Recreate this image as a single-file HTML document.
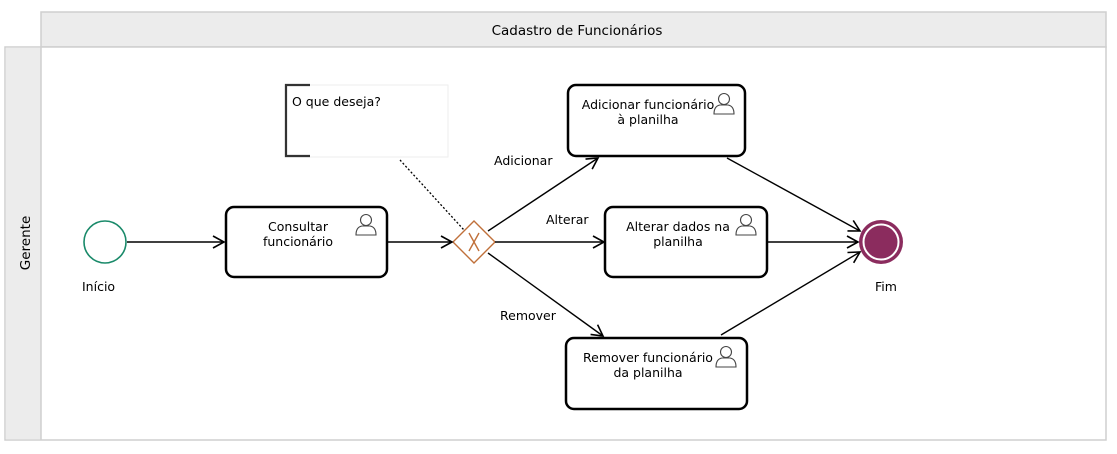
<!DOCTYPE html>
<html><head><meta charset="utf-8"><style>
html,body{margin:0;padding:0;background:#fff;}
svg{display:block;font-family:"DejaVu Sans","Liberation Sans",sans-serif;}
text{fill:#000;}
</style></head><body>
<svg width="1117" height="454" viewBox="0 0 1117 454" xmlns="http://www.w3.org/2000/svg">
<defs>
<marker id="a" markerWidth="14" markerHeight="14" refX="12" refY="7" orient="auto" markerUnits="userSpaceOnUse">
<path d="M1,1 L12,7 L1,13" fill="none" stroke="#000" stroke-width="1.6"/>
</marker>
<g id="u" fill="none" stroke="#444" stroke-width="1.1">
<circle cx="11" cy="7" r="5.5"/>
<path d="M1,22 Q1,14 7,13 L15,13 Q21,14 21,22 Z"/>
</g>
</defs>
<rect x="41" y="12" width="1065" height="35" fill="#ececec" stroke="#cfcfcf" stroke-width="1.5"/>
<text x="577" y="35" font-size="13.5" text-anchor="middle">Cadastro de Funcionários</text>
<rect x="5" y="47" width="1101" height="393" fill="#fff" stroke="#cfcfcf" stroke-width="1.5"/>
<rect x="5.75" y="47.75" width="35.5" height="391.5" fill="#ececec"/>
<line x1="41" y1="47" x2="41" y2="440" stroke="#cfcfcf" stroke-width="1.5"/>
<text transform="translate(30,243) rotate(-90)" font-size="13.5" text-anchor="middle">Gerente</text>

<rect x="285" y="85" width="163" height="72" fill="#fff" stroke="#eee"/>
<path d="M310,85 L286,85 L286,156 L310,156" fill="none" stroke="#333" stroke-width="2.2"/>
<text x="292" y="106" font-size="12.5">O que deseja?</text>
<line x1="400" y1="160" x2="464" y2="230" stroke="#000" stroke-width="1.3" stroke-dasharray="2,2"/>

<circle cx="105" cy="242" r="21" fill="#fff" stroke="#1a8a6a" stroke-width="1.6"/>
<text x="82" y="291" font-size="12.5">Início</text>

<rect x="226" y="207" width="161" height="70" rx="8" fill="#fff" stroke="#000" stroke-width="2.5"/>
<text x="298" y="231" font-size="12.5" text-anchor="middle">Consultar</text>
<text x="298" y="246" font-size="12.5" text-anchor="middle">funcionário</text>
<use href="#u" x="355" y="213"/>

<rect x="568" y="85" width="177" height="71" rx="8" fill="#fff" stroke="#000" stroke-width="2.5"/>
<text x="648" y="109" font-size="12.5" text-anchor="middle">Adicionar funcionário</text>
<text x="648" y="124" font-size="12.5" text-anchor="middle">à planilha</text>
<use href="#u" x="713" y="92"/>

<rect x="605" y="207" width="162" height="70" rx="8" fill="#fff" stroke="#000" stroke-width="2.5"/>
<text x="678" y="231" font-size="12.5" text-anchor="middle">Alterar dados na</text>
<text x="678" y="246" font-size="12.5" text-anchor="middle">planilha</text>
<use href="#u" x="735" y="213"/>

<rect x="566" y="338" width="181" height="71" rx="8" fill="#fff" stroke="#000" stroke-width="2.5"/>
<text x="648" y="362" font-size="12.5" text-anchor="middle">Remover funcionário</text>
<text x="648" y="377" font-size="12.5" text-anchor="middle">da planilha</text>
<use href="#u" x="715" y="345"/>

<path d="M474,221 L495,242 L474,263 L453,242 Z" fill="#fff" stroke="#c0703a" stroke-width="1.4"/>
<path d="M469,233 L479,251 M479,233 L469,251" stroke="#c0703a" stroke-width="1.4" fill="none"/>

<circle cx="881" cy="242" r="22" fill="#8b2c5e"/>
<circle cx="881" cy="242" r="17.5" fill="none" stroke="#fff" stroke-width="2"/>
<text x="875" y="291" font-size="12.5">Fim</text>

<g stroke="#000" stroke-width="1.4" fill="none" marker-end="url(#a)">
<line x1="127" y1="242" x2="224" y2="242"/>
<line x1="388" y1="242" x2="452" y2="242"/>
<line x1="488" y1="231" x2="598" y2="158"/>
<line x1="495" y1="242" x2="604" y2="242"/>
<line x1="488" y1="253" x2="603" y2="336"/>
<line x1="727" y1="158" x2="860" y2="231"/>
<line x1="768" y1="242" x2="858" y2="242"/>
<line x1="721" y1="335" x2="860" y2="252"/>
</g>
<text x="494" y="165" font-size="12.5">Adicionar</text>
<text x="546" y="224" font-size="12.5">Alterar</text>
<text x="500" y="320" font-size="12.5">Remover</text>
</svg>
</body></html>
